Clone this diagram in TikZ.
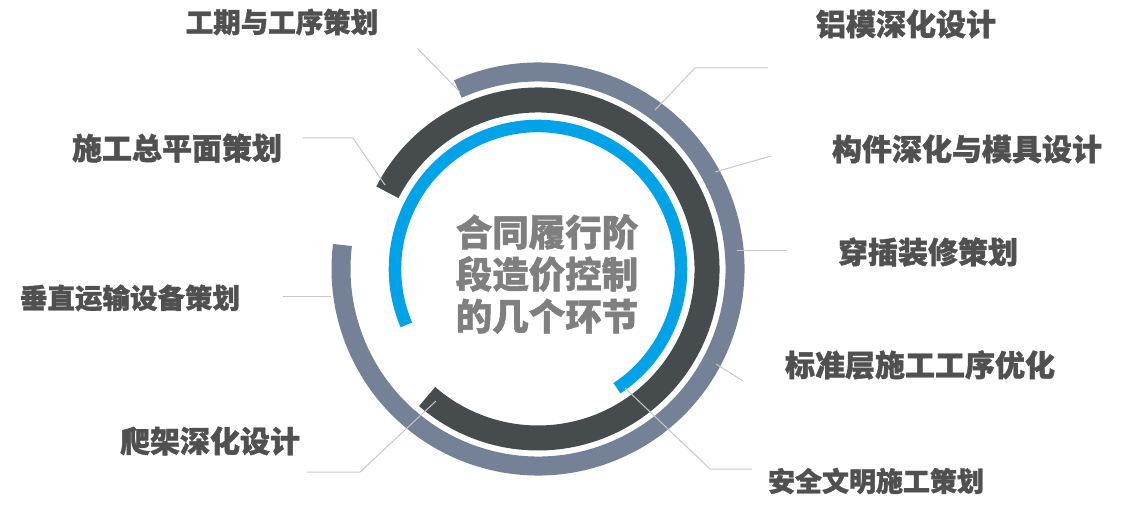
\documentclass[tikz,border=0pt]{standalone}
\usepackage{fontspec}
\newfontfamily\cjk{Noto Sans CJK SC}[BoldFeatures={FakeBold=1.2}]
\definecolor{ringgrey}{HTML}{748197}
\definecolor{ringdark}{HTML}{464B4D}
\definecolor{ringblue}{HTML}{00A2E8}
\definecolor{labelc}{HTML}{505050}
\definecolor{centerc}{HTML}{7F7F7F}
\definecolor{leadc}{HTML}{C8C8C8}
\tikzset{
  lab/.style={font=\cjk\bfseries\fontsize{#1}{#1}\selectfont, text=labelc, inner sep=0pt},
  leader/.style={draw=leadc, line width=1pt},
}
\begin{document}
\begin{tikzpicture}[x=1pt,y=1pt]
\useasboundingbox (0,0) rectangle (1129,-510);
\fill[white] (0,0) rectangle (1129,-510);
\coordinate (C) at (538,-269);
% rings
\draw[ringgrey, line width=19pt] ([shift={(114:197)}]C) arc[start angle=114, end angle=-187, radius=197];
\draw[ringdark, line width=25pt] ([shift={(153:169)}]C) arc[start angle=153, end angle=-131, radius=169];
\draw[ringblue, line width=12.5pt] ([shift={(203:143)}]C) arc[start angle=203, end angle=-56.5, radius=143];
% center text
\node[font=\cjk\bfseries\fontsize{36.5pt}{42pt}\selectfont, text=centerc, align=center, inner sep=0pt] (center) at (547,-274) {合同履行阶\\段造价控制\\的几个环节};
% labels
\node[lab=27.5pt] (l1) at (282,-22) {工期与工序策划};
\node[lab=30pt] (l2) at (177,-148) {施工总平面策划};
\node[lab=27.5pt] (l3) at (130,-298) {垂直运输设备策划};
\node[lab=30pt] (l4) at (210,-441) {爬架深化设计};
\node[lab=30pt] (r1) at (906,-24) {铝模深化设计};
\node[lab=30pt] (r2) at (967,-149) {构件深化与模具设计};
\node[lab=30pt] (r3) at (928,-252) {穿插装修策划};
\node[lab=30pt] (r4) at (920,-365) {标准层施工工序优化};
\node[lab=27pt] (r5) at (876,-481) {安全文明施工策划};
% leader coordinates
\coordinate (a1) at (417,-48);  \coordinate (b1) at (460,-92);
\coordinate (a2) at (303,-138); \coordinate (m2) at (353,-138); \coordinate (b2) at (385,-185);
\coordinate (a3) at (283,-297); \coordinate (b3) at (331,-297);
\coordinate (a4) at (307,-472); \coordinate (m4) at (360,-472); \coordinate (b4) at (436,-401);
\coordinate (a5) at (768,-68);  \coordinate (m5) at (695,-68);  \coordinate (b5) at (655,-110);
\coordinate (a6) at (771,-156); \coordinate (b6) at (715,-172);
\coordinate (a7) at (786,-251); \coordinate (b7) at (737,-251);
\coordinate (a8) at (743,-381); \coordinate (b8) at (716,-364);
\coordinate (a9) at (752,-469); \coordinate (m9) at (710,-469); \coordinate (b9) at (625,-388);
\draw[leader] (a1) -- (b1);
\draw[leader] (a2) -- (m2) -- (b2);
\draw[leader] (a3) -- (b3);
\draw[leader] (a4) -- (m4) -- (b4);
\draw[leader] (a5) -- (m5) -- (b5);
\draw[leader] (a6) -- (b6);
\draw[leader] (a7) -- (b7);
\draw[leader] (a8) -- (b8);
\draw[leader] (a9) -- (m9) -- (b9);
\end{tikzpicture}
\end{document}
